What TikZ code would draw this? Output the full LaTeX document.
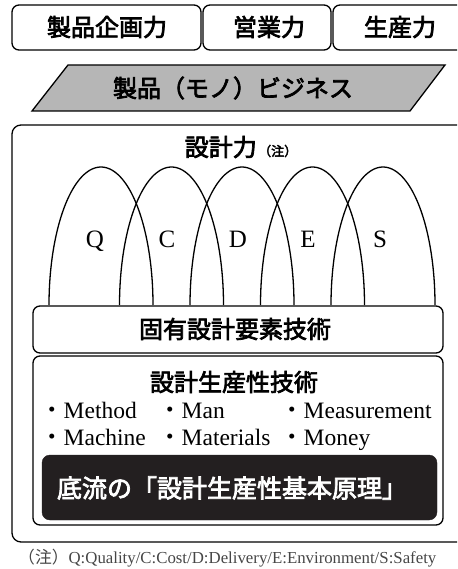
\documentclass[tikz,border=0pt]{standalone}
\usepackage{fontspec}
\setmainfont{Liberation Serif}
\newfontfamily\jp[FakeBold=3]{Noto Sans CJK JP}
\newfontfamily\jpr{Noto Sans CJK JP}
\definecolor{parag}{RGB}{182,182,182}
\definecolor{darkbox}{RGB}{35,31,32}
\definecolor{notegray}{RGB}{70,70,70}
\tikzset{
  ln/.style={line width=1.3pt},
  rbox/.style={ln, draw, rounded corners=7pt},
  jlabel/.style={font=\jp\fontsize{24}{26}\selectfont, inner sep=0pt},
  latin/.style={font=\fontsize{25}{27}\selectfont, inner sep=0pt, anchor=base},
  item/.style={font=\fontsize{23.5}{25}\selectfont, inner sep=0pt, anchor=base west},
}
\newcommand{\bul}{{\jpr ・}}
\begin{document}
\begin{tikzpicture}[x=1pt,y=-1pt]
\useasboundingbox (0,0) rectangle (457,569);
\clip (0,0) rectangle (457,569);
% top boxes
\draw[rbox] (12,5) rectangle (201,50);
\draw[rbox] (203,5) rectangle (331,50);
\draw[rbox] (333,5) rectangle (480,50);
\node[jlabel] (t1) at (107,27) {製品企画力};
\node[jlabel] (t2) at (269,27) {営業力};
\node[jlabel] (t3) at (400,27) {生産力};
% parallelogram
\draw[ln, fill=parag] (68,65) -- (445,65) -- (410,111) -- (32,111) -- cycle;
\node[jlabel] (biz) at (233,88) {製品（モノ）ビジネス};
% frame
\draw[rbox, rounded corners=9pt] (12,125) rectangle (480,542);
\node[jlabel, anchor=east] (dp) at (257,147) {設計力};
\node[font=\jp\fontsize{13}{15}\selectfont, inner sep=0pt, anchor=west] (note) at (258,151) {（注）};
% arches
\foreach \cx in {101,171.5,242,312.5,383}{
  \draw[ln] plot[domain=180:0, samples=80, smooth] ({\cx+52*cos(\x)}, {305-138*sin(\x)});
}
\node[latin] (q) at (95,247) {Q};
\node[latin] (c) at (167,247) {C};
\node[latin] (d) at (238,247) {D};
\node[latin] (e) at (308,247) {E};
\node[latin] (s) at (380,247) {S};
% inner boxes
\draw[rbox, fill=white] (33,306) rectangle (443,353);
\node[jlabel] (kt) at (235,329) {固有設計要素技術};
\draw[rbox] (33,356) rectangle (443,525);
\node[jlabel] (sp) at (234,382) {設計生産性技術};
\node[item] (m1) at (40,418) {\bul Method};
\node[item] (m2) at (158,418) {\bul Man};
\node[item] (m3) at (280,418) {\bul Measurement};
\node[item] (m4) at (40,445) {\bul Machine};
\node[item] (m5) at (158,445) {\bul Materials};
\node[item] (m6) at (280,445) {\bul Money};
\draw[darkbox, fill=darkbox, rounded corners=8pt] (42,455) rectangle (437,520);
\node[jlabel, text=white, font=\jp\fontsize{25}{27}\selectfont] (base) at (232,488) {底流の「設計生産性基本原理」};
% footnote
\node[inner sep=0pt, anchor=base west, text=notegray, font=\fontsize{16.8}{19}\selectfont] (fn) at (18,563) {{\jpr （注）}Q:Quality/C:Cost/D:Delivery/E:Environment/S:Safety};
\end{tikzpicture}
\end{document}
